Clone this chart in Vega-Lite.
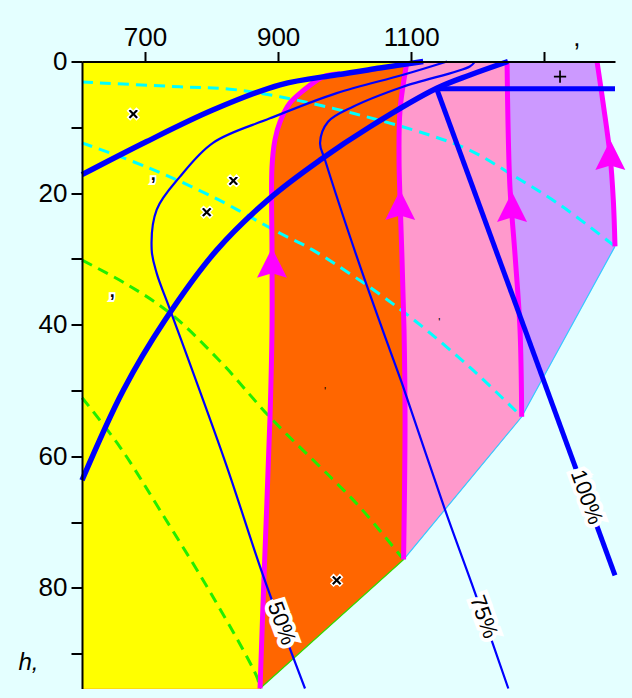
{
  "$schema": "https://vega.github.io/schema/vega-lite/v6.json",
  "width": 533,
  "height": 627,
  "autosize": {"type": "none"},
  "padding": {"left": 82, "top": 61.5, "right": 17, "bottom": 9.5},
  "background": "#e4ffff",
  "config": {"view": {"stroke": null}, "font": "Liberation Sans"},
  "datasets": {
    "regions": [
      {"r": "purple", "i": 0, "y": 0, "x": 605.3}, {"r": "purple", "i": 1, "y": 0, "x": 1379.2}, {"r": "purple", "i": 2, "y": 6.6, "x": 1388.7}, {"r": "purple", "i": 3, "y": 14.2, "x": 1398.7}, {"r": "purple", "i": 4, "y": 21.1, "x": 1403.7}, {"r": "purple", "i": 5, "y": 28.1, "x": 1406.2}, {"r": "purple", "i": 6, "y": 54.0, "x": 1266}, {"r": "purple", "i": 7, "y": 75.7, "x": 1088.5}, {"r": "purple", "i": 8, "y": 95.3, "x": 872.8}, {"r": "purple", "i": 9, "y": 95.3, "x": 605.3},
      {"r": "pink", "i": 0, "y": 0, "x": 605.3}, {"r": "pink", "i": 1, "y": 0, "x": 1244}, {"r": "pink", "i": 2, "y": 9.2, "x": 1245.4}, {"r": "pink", "i": 3, "y": 19.2, "x": 1248.4}, {"r": "pink", "i": 4, "y": 29.4, "x": 1256}, {"r": "pink", "i": 5, "y": 40.8, "x": 1263.5}, {"r": "pink", "i": 6, "y": 54.0, "x": 1266}, {"r": "pink", "i": 7, "y": 75.7, "x": 1088.5}, {"r": "pink", "i": 8, "y": 95.3, "x": 872.8}, {"r": "pink", "i": 9, "y": 95.3, "x": 605.3},
      {"r": "orange", "i": 0, "y": 0, "x": 605.3}, {"r": "orange", "i": 1, "y": 0, "x": 1093.7}, {"r": "orange", "i": 2, "y": 7.34, "x": 1083.2}, {"r": "orange", "i": 3, "y": 14.9, "x": 1081.7}, {"r": "orange", "i": 4, "y": 21.0, "x": 1083.2}, {"r": "orange", "i": 5, "y": 30.1, "x": 1086.2}, {"r": "orange", "i": 6, "y": 40.8, "x": 1089.2}, {"r": "orange", "i": 7, "y": 54.5, "x": 1090.7}, {"r": "orange", "i": 8, "y": 75.7, "x": 1088.5}, {"r": "orange", "i": 9, "y": 95.3, "x": 872.8}, {"r": "orange", "i": 10, "y": 95.3, "x": 605.3},
      {"r": "yellow", "i": 0, "y": 0, "x": 605.3}, {"r": "yellow", "i": 1, "y": 0, "x": 1093}, {"r": "yellow", "i": 2, "y": 0.5, "x": 1080}, {"r": "yellow", "i": 3, "y": 1.0, "x": 1053}, {"r": "yellow", "i": 4, "y": 1.5, "x": 1020}, {"r": "yellow", "i": 5, "y": 1.87, "x": 993}, {"r": "yellow", "i": 6, "y": 2.33, "x": 967.5}, {"r": "yellow", "i": 7, "y": 4.45, "x": 937.4}, {"r": "yellow", "i": 8, "y": 6.28, "x": 917.9}, {"r": "yellow", "i": 9, "y": 9.16, "x": 902.9}, {"r": "yellow", "i": 10, "y": 11.9, "x": 895.3}, {"r": "yellow", "i": 11, "y": 16.0, "x": 890.8}, {"r": "yellow", "i": 12, "y": 28.6, "x": 890.8}, {"r": "yellow", "i": 13, "y": 40.8, "x": 890.8}, {"r": "yellow", "i": 14, "y": 54.0, "x": 887.8}, {"r": "yellow", "i": 15, "y": 78.3, "x": 878.8}, {"r": "yellow", "i": 16, "y": 95.3, "x": 872.8}, {"r": "yellow", "i": 17, "y": 95.3, "x": 605.3}
    ],
    "curves": [
      {"s": "m1", "y": 1.87, "x": 993}, {"s": "m1", "y": 2.33, "x": 967.5}, {"s": "m1", "y": 4.45, "x": 937.4}, {"s": "m1", "y": 6.28, "x": 917.9}, {"s": "m1", "y": 9.16, "x": 902.9}, {"s": "m1", "y": 11.9, "x": 895.3}, {"s": "m1", "y": 16.0, "x": 890.8}, {"s": "m1", "y": 28.6, "x": 890.8}, {"s": "m1", "y": 40.8, "x": 890.8}, {"s": "m1", "y": 54.0, "x": 887.8}, {"s": "m1", "y": 78.3, "x": 878.8}, {"s": "m1", "y": 95.3, "x": 872.8},
      {"s": "m2", "y": 0, "x": 1093.7}, {"s": "m2", "y": 7.34, "x": 1083.2}, {"s": "m2", "y": 14.9, "x": 1081.7}, {"s": "m2", "y": 21.0, "x": 1083.2}, {"s": "m2", "y": 30.1, "x": 1086.2}, {"s": "m2", "y": 40.8, "x": 1089.2}, {"s": "m2", "y": 54.5, "x": 1090.7}, {"s": "m2", "y": 75.7, "x": 1088.5},
      {"s": "m3", "y": 0, "x": 1244}, {"s": "m3", "y": 9.2, "x": 1245.4}, {"s": "m3", "y": 19.2, "x": 1248.4}, {"s": "m3", "y": 29.4, "x": 1256}, {"s": "m3", "y": 40.8, "x": 1263.5}, {"s": "m3", "y": 54.0, "x": 1266},
      {"s": "m4", "y": 0, "x": 1379.2}, {"s": "m4", "y": 6.6, "x": 1388.7}, {"s": "m4", "y": 14.2, "x": 1398.7}, {"s": "m4", "y": 21.1, "x": 1403.7}, {"s": "m4", "y": 28.1, "x": 1406.2},
      {"s": "c1", "y": 3.12, "x": 605.3}, {"s": "c1", "y": 3.84, "x": 752.6}, {"s": "c1", "y": 4.2, "x": 827.7}, {"s": "c1", "y": 5.36, "x": 902.9}, {"s": "c1", "y": 7.87, "x": 1012.5}, {"s": "c1", "y": 11.2, "x": 1128.2}, {"s": "c1", "y": 13.5, "x": 1188.3}, {"s": "c1", "y": 17.3, "x": 1252.9}, {"s": "c1", "y": 21.8, "x": 1323.6}, {"s": "c1", "y": 28.1, "x": 1406.2},
      {"s": "c2", "y": 12.37, "x": 605.3}, {"s": "c2", "y": 16.05, "x": 703}, {"s": "c2", "y": 20.6, "x": 802.2}, {"s": "c2", "y": 26.1, "x": 902.9}, {"s": "c2", "y": 28.67, "x": 952.4}, {"s": "c2", "y": 37.3, "x": 1078.7}, {"s": "c2", "y": 46.5, "x": 1188.3}, {"s": "c2", "y": 54.0, "x": 1266},
      {"s": "g1", "y": 30.2, "x": 605.5}, {"s": "g1", "y": 33.7, "x": 669.9}, {"s": "g1", "y": 38.25, "x": 737.6}, {"s": "g1", "y": 45.55, "x": 812.7}, {"s": "g1", "y": 54.07, "x": 887.8}, {"s": "g1", "y": 63.2, "x": 979}, {"s": "g1", "y": 67.75, "x": 1023}, {"s": "g1", "y": 75.7, "x": 1088.5},
      {"s": "g2", "y": 51.1, "x": 605.5}, {"s": "g2", "y": 58.6, "x": 662.4}, {"s": "g2", "y": 68.2, "x": 722.5}, {"s": "g2", "y": 81.4, "x": 802.2}, {"s": "g2", "y": 93.6, "x": 868.3}, {"s": "g2", "y": 95.3, "x": 872.8},
      {"s": "bg", "y": 75.7, "x": 1088.5}, {"s": "bg", "y": 95.3, "x": 872.8},
      {"s": "bb", "y": 28.1, "x": 1406.2}, {"s": "bb", "y": 54.0, "x": 1266}, {"s": "bb", "y": 75.7, "x": 1088.5},
      {"s": "p50", "y": 0, "x": 1153.8}, {"s": "p50", "y": 2.02, "x": 1088.1}, {"s": "p50", "y": 4.8, "x": 988}, {"s": "p50", "y": 8.64, "x": 887.8}, {"s": "p50", "y": 12.36, "x": 802.2}, {"s": "p50", "y": 17.5, "x": 752.6}, {"s": "p50", "y": 22.5, "x": 717.6}, {"s": "p50", "y": 28.6, "x": 710}, {"s": "p50", "y": 32.2, "x": 717.6}, {"s": "p50", "y": 37.7, "x": 737.6}, {"s": "p50", "y": 61.0, "x": 821}, {"s": "p50", "y": 78.3, "x": 878}, {"s": "p50", "y": 95.3, "x": 940.4},
      {"s": "p75", "y": 0, "x": 1195.9}, {"s": "p75", "y": 0.76, "x": 1188}, {"s": "p75", "y": 3.83, "x": 1087.7}, {"s": "p75", "y": 6.87, "x": 1012.5}, {"s": "p75", "y": 9.16, "x": 975}, {"s": "p75", "y": 12.4, "x": 963}, {"s": "p75", "y": 14.97, "x": 970.5}, {"s": "p75", "y": 30.2, "x": 1020}, {"s": "p75", "y": 40.8, "x": 1057}, {"s": "p75", "y": 48.9, "x": 1086}, {"s": "p75", "y": 68.2, "x": 1151}, {"s": "p75", "y": 80.8, "x": 1196}, {"s": "p75", "y": 95.3, "x": 1245.9},
      {"s": "t1", "y": 0, "x": 1118}, {"s": "t1", "y": 1.0, "x": 1053}, {"s": "t1", "y": 2.02, "x": 988}, {"s": "t1", "y": 3.54, "x": 902.9}, {"s": "t1", "y": 7.34, "x": 802.6}, {"s": "t1", "y": 12.16, "x": 702.6}, {"s": "t1", "y": 17.2, "x": 605.3},
      {"s": "t2", "y": 0, "x": 1245.4}, {"s": "t2", "y": 2.05, "x": 1188.3}, {"s": "t2", "y": 4.08, "x": 1138.3}, {"s": "t2", "y": 9.92, "x": 1038.1}, {"s": "t2", "y": 14.97, "x": 963}, {"s": "t2", "y": 20.76, "x": 887.8}, {"s": "t2", "y": 28.67, "x": 807.7}, {"s": "t2", "y": 39.3, "x": 730.1}, {"s": "t2", "y": 49.96, "x": 667.4}, {"s": "t2", "y": 63.65, "x": 605.3}
    ],
    "straight": [
      {"s": "t100", "y": 4.15, "x": 1138.3}, {"s": "t100", "y": 78.1, "x": 1406.2},
      {"s": "th", "y": 4.15, "x": 1138.3}, {"s": "th", "y": 4.15, "x": 1406.2}
    ],
    "arrows": [
      {"y": 30.6, "x": 890.8}, {"y": 21.8, "x": 1083.4}, {"y": 22.1, "x": 1251.5}, {"y": 14.2, "x": 1399.2}
    ],
    "xmarks": [
      {"y": 7.98, "x": 682.4}, {"y": 18.13, "x": 832.7}, {"y": 22.9, "x": 792.7}, {"y": 78.86, "x": 988}
    ],
    "plus": [{"y": 2.31, "x": 1323.6}],
    "commas": [{"t": ",", "y": 17.3, "x": 712.5}, {"t": ",", "y": 35.0, "x": 650.8}],
    "dots": [{"t": "'", "y": 50.2, "x": 970.5}, {"t": "'", "y": 39.8, "x": 1142.2}],
    "labels": [
      {"t": "50%", "y": 85.4, "x": 905.4}, {"t": "75%", "y": 84.4, "x": 1209}, {"t": "100%", "y": 66.2, "x": 1363.6}
    ],
    "toplabel": [{"t": ",", "y": -2.4, "x": 1349}]
  },
  "encoding": {
    "x": {
      "field": "x", "type": "quantitative",
      "scale": {"domain": [605.3, 1406.2], "nice": false, "zero": false},
      "axis": {
        "orient": "top", "values": [700, 900, 1100, 1300], "format": "d",
        "labelExpr": "datum.value == 1300 ? '' : datum.label",
        "title": null, "grid": false, "zindex": 1,
        "tickSize": 10, "tickWidth": 2, "tickColor": "black",
        "domainWidth": 2, "domainColor": "black",
        "labelFontSize": 26, "labelColor": "black", "labelPadding": 1, "labelFont": "Liberation Sans"
      }
    },
    "y": {
      "field": "y", "type": "quantitative",
      "scale": {"domain": [0, 95.3], "nice": false, "zero": false, "reverse": true},
      "axis": {
        "values": [0, 10, 20, 30, 40, 50, 60, 70, 80, 90], "format": "d",
        "labelExpr": "datum.value % 20 === 0 ? datum.label : ''",
        "grid": false, "zindex": 1,
        "tickSize": 11, "tickWidth": 2, "tickColor": "black",
        "domainWidth": 2, "domainColor": "black",
        "labelFontSize": 26, "labelColor": "black", "labelPadding": 4, "labelFont": "Liberation Sans",
        "title": "h,", "titleAngle": 0, "titleFontStyle": "italic", "titleFontWeight": "normal",
        "titleFontSize": 24, "titleColor": "black", "titleFont": "Liberation Sans",
        "titleX": -54, "titleY": 608, "titleAlign": "center", "titleBaseline": "alphabetic"
      }
    }
  },
  "layer": [
    {"data": {"name": "regions"}, "transform": [{"filter": "datum.r == 'purple'"}], "mark": {"type": "line", "fill": "#cc99ff", "stroke": "#cc99ff", "strokeWidth": 0.5}, "encoding": {"order": {"field": "i", "type": "quantitative"}}},
    {"data": {"name": "regions"}, "transform": [{"filter": "datum.r == 'pink'"}], "mark": {"type": "line", "fill": "#ff99cc", "stroke": "#ff99cc", "strokeWidth": 0.5}, "encoding": {"order": {"field": "i", "type": "quantitative"}}},
    {"data": {"name": "regions"}, "transform": [{"filter": "datum.r == 'orange'"}], "mark": {"type": "line", "fill": "#ff6600", "stroke": "#ff6600", "strokeWidth": 0.5}, "encoding": {"order": {"field": "i", "type": "quantitative"}}},
    {"data": {"name": "regions"}, "transform": [{"filter": "datum.r == 'yellow'"}], "mark": {"type": "line", "fill": "#ffff00", "stroke": "#ffff00", "strokeWidth": 0.5}, "encoding": {"order": {"field": "i", "type": "quantitative"}}},
    {"data": {"name": "curves"}, "transform": [{"filter": "datum.s == 'bg'"}], "mark": {"type": "line", "color": "#33dd00", "strokeWidth": 1.2}, "encoding": {"order": {"field": "y", "type": "quantitative"}}},
    {"data": {"name": "curves"}, "transform": [{"filter": "datum.s == 'bb'"}], "mark": {"type": "line", "color": "#33ccff", "strokeWidth": 1.2}, "encoding": {"order": {"field": "y", "type": "quantitative"}}},
    {"data": {"name": "curves"}, "transform": [{"filter": "datum.s == 'c1' || datum.s == 'c2'"}], "mark": {"type": "line", "color": "#00ffff", "strokeWidth": 3, "strokeDash": [11, 7], "interpolate": "catmull-rom"}, "encoding": {"detail": {"field": "s"}, "order": {"field": "y", "type": "quantitative"}}},
    {"data": {"name": "curves"}, "transform": [{"filter": "datum.s == 'g1' || datum.s == 'g2'"}], "mark": {"type": "line", "color": "#22ee00", "strokeWidth": 3, "strokeDash": [11, 7], "interpolate": "catmull-rom"}, "encoding": {"detail": {"field": "s"}, "order": {"field": "y", "type": "quantitative"}}},
    {"data": {"name": "curves"}, "transform": [{"filter": "indexof(['m1','m2','m3','m4'], datum.s) >= 0"}], "mark": {"type": "line", "color": "#ff00ff", "strokeWidth": 5, "interpolate": "catmull-rom"}, "encoding": {"detail": {"field": "s"}, "order": {"field": "y", "type": "quantitative"}}},
    {"data": {"name": "arrows"}, "mark": {"type": "point", "shape": "M0,-1L1,1L0,0.7L-1,1Z", "filled": true, "color": "#ff00ff", "opacity": 1, "size": 900, "strokeWidth": 0}},
    {"data": {"name": "curves"}, "transform": [{"filter": "datum.s == 'p50' || datum.s == 'p75'"}], "mark": {"type": "line", "color": "#0000ff", "strokeWidth": 2.2, "interpolate": "catmull-rom"}, "encoding": {"detail": {"field": "s"}, "order": {"field": "y", "type": "quantitative"}}},
    {"data": {"name": "curves"}, "transform": [{"filter": "datum.s == 't1' || datum.s == 't2'"}], "mark": {"type": "line", "color": "#0000ff", "strokeWidth": 5.5, "interpolate": "catmull-rom"}, "encoding": {"detail": {"field": "s"}, "order": {"field": "y", "type": "quantitative"}}},
    {"data": {"name": "straight"}, "mark": {"type": "line", "color": "#0000ff", "strokeWidth": 5}, "encoding": {"detail": {"field": "s"}, "order": {"field": "x", "type": "quantitative"}}},
    {"data": {"name": "xmarks"}, "mark": {"type": "point", "shape": "M-1,-0.55L-0.55,-1L0,-0.45L0.55,-1L1,-0.55L0.45,0L1,0.55L0.55,1L0,0.45L-0.55,1L-1,0.55L-0.45,0Z", "filled": true, "fill": "black", "stroke": "white", "strokeWidth": 1.5, "opacity": 1, "size": 130}},
    {"data": {"name": "plus"}, "mark": {"type": "point", "shape": "M-1,-0.14L-0.14,-0.14L-0.14,-1L0.14,-1L0.14,-0.14L1,-0.14L1,0.14L0.14,0.14L0.14,1L-0.14,1L-0.14,0.14L-1,0.14Z", "filled": true, "fill": "black", "opacity": 1, "size": 150, "strokeWidth": 0}},
    {"data": {"name": "commas"}, "mark": {"type": "text", "fontSize": 18, "fontWeight": "bold", "stroke": "white", "strokeWidth": 4, "color": "white", "baseline": "middle"}, "encoding": {"text": {"field": "t"}}},
    {"data": {"name": "commas"}, "mark": {"type": "text", "fontSize": 18, "fontWeight": "bold", "color": "black", "baseline": "middle"}, "encoding": {"text": {"field": "t"}}},
    {"data": {"name": "dots"}, "mark": {"type": "text", "fontSize": 11, "color": "black", "baseline": "middle"}, "encoding": {"text": {"field": "t"}}},
    {"data": {"name": "labels"}, "mark": {"type": "text", "fontSize": 22, "angle": 70, "stroke": "white", "strokeWidth": 8, "strokeJoin": "miter", "color": "white", "baseline": "middle", "align": "center"}, "encoding": {"text": {"field": "t"}}},
    {"data": {"name": "labels"}, "mark": {"type": "text", "fontSize": 22, "angle": 70, "color": "black", "baseline": "middle", "align": "center"}, "encoding": {"text": {"field": "t"}}},
    {"data": {"name": "toplabel"}, "mark": {"type": "text", "fontSize": 26, "color": "black", "baseline": "alphabetic", "align": "center"}, "encoding": {"text": {"field": "t"}}}
  ]
}
